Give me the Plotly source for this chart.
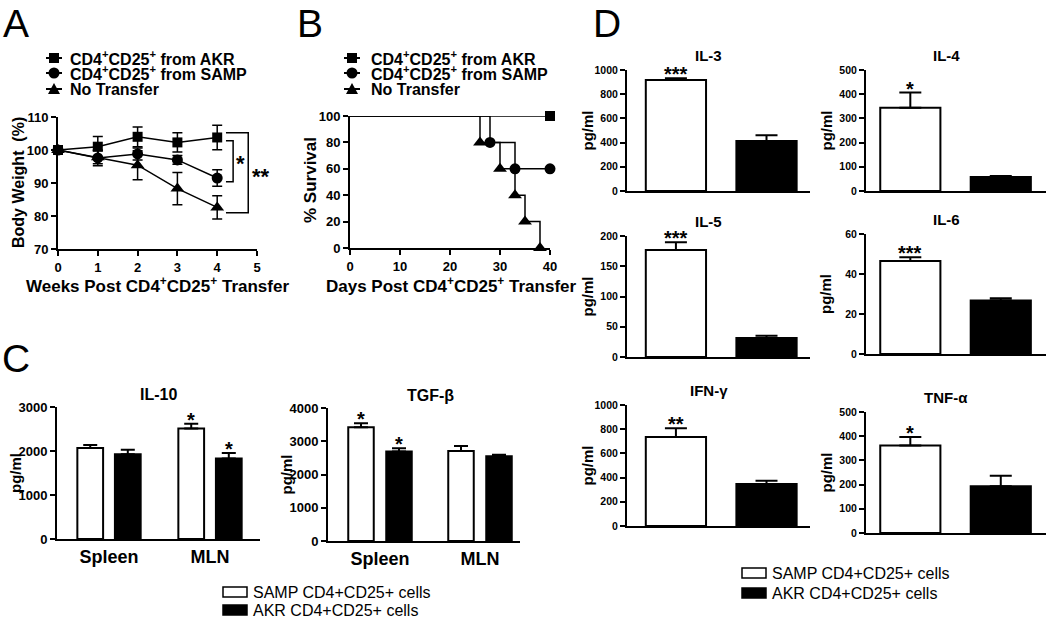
import plotly.graph_objects as go

W, H = 1050, 620
FONT = "Arial, Liberation Sans, sans-serif"

# ---------------- data ----------------
# A: body weight (%) by week
weeks = [0, 1, 2, 3, 4]
wt_akr = [100, 101.0, 104.0, 102.3, 103.8]
wt_akr_err = [0, 3.1, 3.0, 2.9, 3.7]
wt_samp = [100, 97.6, 98.8, 97.0, 91.5]
wt_samp_err = [0, 2.4, 1.8, 1.3, 2.5]
wt_none = [100, 97.8, 95.4, 88.3, 82.6]
wt_none_err = [0, 2.0, 4.4, 4.9, 3.5]

# B: % survival (steps)
days_akr = [0, 40]
surv_akr = [100, 100]
days_samp = [0, 28, 33, 40]
surv_samp = [100, 80, 60, 60]
days_none = [0, 26, 30, 33, 35, 38]
surv_none = [100, 80, 60, 40, 20, 0]

legend_names = ["CD4<sup>+</sup>CD25<sup>+</sup> from AKR",
                "CD4<sup>+</sup>CD25<sup>+</sup> from SAMP",
                "No Transfer"]

# C: IL-10 and TGF-beta by organ
organs = ["Spleen", "MLN"]
il10_samp = [2070, 2510]
il10_samp_err = [65, 110]
il10_akr = [1925, 1830]
il10_akr_err = [105, 125]
il10_samp_sig = ["", "*"]
il10_akr_sig = ["", "*"]
tgf_samp = [3420, 2710]
tgf_samp_err = [125, 150]
tgf_akr = [2690, 2550]
tgf_akr_err = [100, 45]
tgf_samp_sig = ["*", ""]
tgf_akr_sig = ["*", ""]

# D: cytokines
cytokines = ["IL-3", "IL-4", "IL-5", "IL-6", "IFN-γ", "TNF-α"]
cyt_samp = [917, 344, 177, 46.5, 735, 362]
cyt_samp_err = [14, 63, 12.5, 1.9, 72, 35]
cyt_akr = [414, 58, 31.5, 26.8, 347, 193]
cyt_akr_err = [47, 4, 3.5, 1.1, 28, 44]
cyt_sig = ["***", "*", "***", "***", "**", "*"]
cyt_ymax = [1000, 500, 200, 60, 1000, 500]
cyt_dtick = [200, 100, 50, 20, 200, 100]

bar_legend = ["SAMP CD4+CD25+ cells", "AKR CD4+CD25+ cells"]


# ---------------- helpers ----------------
def px(x):
    return x / W


def py(y):
    return 1 - y / H


def axis_style(size=13, **kw):
    d = dict(showline=True, linecolor="black", linewidth=2, ticks="outside",
             ticklen=5, tickwidth=2, tickcolor="black", showgrid=False,
             zeroline=False, automargin=False,
             tickfont=dict(family=FONT, size=size, color="black", weight="bold"))
    d.update(kw)
    return d


def text(t, x, y, size, bold=True, angle=0, xanchor="center", yanchor="middle"):
    return dict(text=t, x=px(x), y=py(y), xref="paper", yref="paper",
                showarrow=False, textangle=angle, xanchor=xanchor, yanchor=yanchor,
                font=dict(family=FONT, size=size, color="black",
                          weight="bold" if bold else "normal"))


fig = go.Figure()
layout = {}
annotations = []
shapes = []

# ---------------- A ----------------
symbols = ["square", "circle", "triangle-up"]
msize = [10, 11, 12]
for ys, es, sym, ms in zip([wt_akr, wt_samp, wt_none],
                          [wt_akr_err, wt_samp_err, wt_none_err], symbols, msize):
    fig.add_trace(go.Scatter(
        x=weeks, y=ys, mode="lines+markers", cliponaxis=False,
        line=dict(color="black", width=1.5),
        marker=dict(symbol=sym, size=ms, color="black"),
        error_y=dict(type="data", array=es, color="black", thickness=1.5, width=5),
        xaxis="x", yaxis="y", showlegend=False))

layout["xaxis"] = axis_style(domain=[px(58), px(257)], range=[0, 5], dtick=1,
                             anchor="y")
layout["yaxis"] = axis_style(domain=[py(249), py(117)], range=[70, 110], dtick=10,
                             anchor="x")

# significance brackets
for x1, ytop, ybot in [(4.4, 102.8, 90.4), (4.78, 105.2, 81.0)]:
    shapes.append(dict(type="path", xref="x", yref="y",
                       path=f"M 4.22 {ytop} L {x1} {ytop} L {x1} {ybot} L 4.22 {ybot}",
                       line=dict(color="black", width=1.5)))
annotations.append(dict(text="*", x=4.58, y=96, xref="x", yref="y", showarrow=False,
                        font=dict(family=FONT, size=22, color="black", weight="bold")))
annotations.append(dict(text="**", x=4.99, y=92, xref="x", yref="y", showarrow=False,
                        xshift=4,
                        font=dict(family=FONT, size=22, color="black", weight="bold")))

# ---------------- B ----------------
for xs, ys, sym, ms in zip([days_akr, days_samp, days_none],
                           [surv_akr, surv_samp, surv_none], symbols, msize):
    fig.add_trace(go.Scatter(
        x=xs, y=ys, mode="lines", line=dict(color="black", width=1.5, shape="hv"),
        cliponaxis=False, xaxis="x2", yaxis="y2", showlegend=False))
    fig.add_trace(go.Scatter(
        x=xs[1:], y=ys[1:], mode="markers", cliponaxis=False,
        marker=dict(symbol=sym, size=ms, color="black"),
        xaxis="x2", yaxis="y2", showlegend=False))

layout["xaxis2"] = axis_style(domain=[px(350), px(550)], range=[0, 40], dtick=10,
                              anchor="y2")
layout["yaxis2"] = axis_style(domain=[py(248), py(116)], range=[0, 100], dtick=20,
                              anchor="x2")

# legends for A and B (drawn glyphs + text)
for gx, tx in [(54, 68), (352, 369)]:
    for i, (name, sym) in enumerate(zip(legend_names, symbols)):
        yy = [58, 73, 89][i]
        shapes.append(dict(type="line", xref="paper", yref="paper",
                           x0=px(gx - 8), x1=px(gx + 8), y0=py(yy), y1=py(yy),
                           line=dict(color="black", width=2)))
        if sym == "square":
            shapes.append(dict(type="rect", xref="paper", yref="paper",
                               x0=px(gx - 5), x1=px(gx + 5), y0=py(yy + 5), y1=py(yy - 5),
                               fillcolor="black", line=dict(width=0)))
        elif sym == "circle":
            shapes.append(dict(type="circle", xref="paper", yref="paper",
                               x0=px(gx - 5.5), x1=px(gx + 5.5), y0=py(yy + 5.5),
                               y1=py(yy - 5.5), fillcolor="black", line=dict(width=0)))
        else:
            shapes.append(dict(type="path", xref="paper", yref="paper",
                               path=f"M {px(gx-6)} {py(yy+5)} L {px(gx+6)} {py(yy+5)} "
                                    f"L {px(gx)} {py(yy-6)} Z",
                               fillcolor="black", line=dict(width=0)))
        annotations.append(text(name, tx, yy, 16, xanchor="left"))

# ---------------- C ----------------
c_pos = list(range(len(organs)))
c_specs = [
    ("x3", "y3", [57, 260], [407, 539], [-0.515, 1.495], 3000, il10_samp, il10_samp_err,
     il10_akr, il10_akr_err, il10_samp_sig, il10_akr_sig, 0.186, 0.255, "IL-10", 158),
    ("x4", "y4", [328, 520], [408, 541], [-0.52, 1.40], 4000, tgf_samp, tgf_samp_err,
     tgf_akr, tgf_akr_err, tgf_samp_sig, tgf_akr_sig, 0.19, 0.255, "TGF-β", 430),
]
for (xa, ya, xd, yd, xr, ymax, sv, se, av, ae, ss, asg, off, bw, title, tx) in c_specs:
    for vals, errs, sig, sgn, color in [(sv, se, ss, -1, "white"), (av, ae, asg, 1, "black")]:
        xs = [p + sgn * off for p in c_pos]
        fig.add_trace(go.Bar(
            x=xs, y=vals, width=bw, xaxis=xa, yaxis=ya, showlegend=False,
            marker=dict(color=color, line=dict(color="black", width=2)),
            error_y=dict(type="data", array=errs, arrayminus=[0] * len(errs),
                         symmetric=False, color="black", thickness=2, width=7)))
        for xv, v, e, s in zip(xs, vals, errs, sig):
            if s:
                annotations.append(dict(text=s, x=xv, y=v + e, xref=xa, yref=ya,
                                        showarrow=False, yanchor="bottom", yshift=-9,
                                        font=dict(family=FONT, size=20, color="black",
                                                  weight="bold")))
    n = xa[1:]
    layout["xaxis" + n] = axis_style(size=18, domain=[px(xd[0]), px(xd[1])], range=xr,
                                     tickvals=c_pos, ticktext=organs, ticks="",
                                     anchor=ya)
    layout["yaxis" + n] = axis_style(domain=[py(yd[1]), py(yd[0])], range=[0, ymax],
                                     dtick=1000, anchor=xa)
    annotations.append(text(title, tx, yd[0] - 13, 16))
    annotations.append(text("pg/ml", xd[0] - 42, (yd[0] + yd[1]) / 2, 15, angle=-90))

# ---------------- D ----------------
d_cols = [(627, 810, [-0.54, 1.48]), (866, 1046, [-0.49, 1.5])]
d_rows = [(70, 191), (70, 191), (236, 357), (234, 354), (405, 526), (412, 533)]
for k, name in enumerate(cytokines):
    x0, x1, xr = d_cols[k % 2]
    top, bot = d_rows[k]
    xa, ya = f"x{5 + k}", f"y{5 + k}"
    for xv, v, e, color in [(0, cyt_samp[k], cyt_samp_err[k], "white"),
                            (1, cyt_akr[k], cyt_akr_err[k], "black")]:
        fig.add_trace(go.Bar(
            x=[xv], y=[v], width=0.665, xaxis=xa, yaxis=ya, showlegend=False,
            marker=dict(color=color, line=dict(color="black", width=2)),
            error_y=dict(type="data", array=[e], arrayminus=[0], symmetric=False,
                         color="black", thickness=2, width=11)))
    annotations.append(dict(text=cyt_sig[k], x=0, y=cyt_samp[k] + cyt_samp_err[k],
                            xref=xa, yref=ya, showarrow=False, yanchor="bottom",
                            yshift=-9,
                            font=dict(family=FONT, size=20, color="black", weight="bold")))
    layout[f"xaxis{5 + k}"] = axis_style(domain=[px(x0), px(x1)], range=xr, ticks="",
                                         showticklabels=False, anchor=ya)
    layout[f"yaxis{5 + k}"] = axis_style(size=10.5, domain=[py(bot), py(top)],
                                         range=[0, cyt_ymax[k]], dtick=cyt_dtick[k],
                                         anchor=xa)
    annotations.append(text(name, (x0 + x1) / 2 - 10, top - 15, 15))
    annotations.append(text("pg/ml", x0 - 40, (top + bot) / 2, 15, angle=-90))

# bar legends for C and D
for bx, rows in [(223, (592, 610)), (742, (573, 593))]:
    for label, yy, color in zip(bar_legend, rows, ["white", "black"]):
        shapes.append(dict(type="rect", xref="paper", yref="paper",
                           x0=px(bx), x1=px(bx + 24), y0=py(yy + 5), y1=py(yy - 5),
                           fillcolor=color, line=dict(color="black", width=1.5)))
        annotations.append(text(label, bx + 28, yy, 16, bold=False, xanchor="left"))

# axis titles A / B
annotations.append(text("Weeks Post CD4<sup>+</sup>CD25<sup>+</sup> Transfer", 157, 285, 17))
annotations.append(text("Days Post CD4<sup>+</sup>CD25<sup>+</sup> Transfer", 451, 285, 17))
annotations.append(text("Body Weight  (%)", 18, 183, 16, angle=-90))
annotations.append(text("% Survival", 311, 180, 17, angle=-90))

# panel letters
for letter, x, y, ya in [("A", 16, 0, "top"), ("B", 310, 0, "top"),
                         ("C", 16, 358, "middle"), ("D", 607, 0, "top")]:
    annotations.append(text(letter, x, y, 39, bold=False, yanchor=ya))

fig.update_layout(
    width=W, height=H, margin=dict(l=0, r=0, t=0, b=0, pad=0, autoexpand=False),
    paper_bgcolor="white", plot_bgcolor="white", barmode="overlay",
    showlegend=False, annotations=annotations, shapes=shapes,
    font=dict(family=FONT, color="black"), **layout)

# page body has a default 8px margin; drop it so the figure sits at the corner
fig.write_html("out.html", config={"displayModeBar": False, "staticPlot": True},
               post_script="document.body.style.margin = '0px';")
